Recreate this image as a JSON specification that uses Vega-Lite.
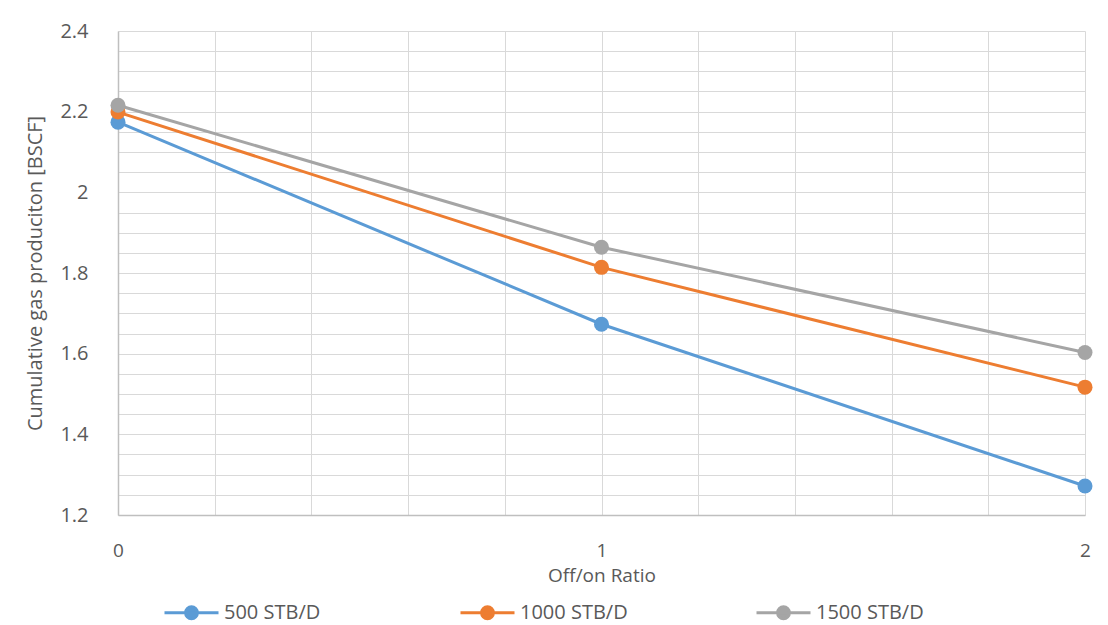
{
  "$schema": "https://vega.github.io/schema/vega-lite/v6.json",
  "width": 967,
  "height": 484,
  "autosize": {"type": "none"},
  "padding": {"left": 118, "top": 31, "right": 23, "bottom": 110},
  "background": "white",
  "config": {"view": {"stroke": null}, "font": "Open Sans"},
  "data": {
    "values": [
      {"ratio": 0, "rate": "500 STB/D", "gas": 2.174},
      {"ratio": 1, "rate": "500 STB/D", "gas": 1.673},
      {"ratio": 2, "rate": "500 STB/D", "gas": 1.272},
      {"ratio": 0, "rate": "1000 STB/D", "gas": 2.199},
      {"ratio": 1, "rate": "1000 STB/D", "gas": 1.814},
      {"ratio": 2, "rate": "1000 STB/D", "gas": 1.517},
      {"ratio": 0, "rate": "1500 STB/D", "gas": 2.216},
      {"ratio": 1, "rate": "1500 STB/D", "gas": 1.864},
      {"ratio": 2, "rate": "1500 STB/D", "gas": 1.603}
    ]
  },
  "mark": {"type": "line", "strokeWidth": 3, "point": {"filled": true, "size": 225, "opacity": 1}},
  "encoding": {
    "x": {
      "field": "ratio",
      "type": "quantitative",
      "scale": {"domain": [0, 2], "nice": false, "zero": false},
      "axis": {
        "values": [0, 0.2, 0.4, 0.6, 0.8, 1, 1.2, 1.4, 1.6, 1.8, 2],
        "format": "~g",
        "labelExpr": "datum.value == 0 || datum.value == 1 || datum.value == 2 ? datum.label : ''",
        "grid": true,
        "gridColor": "#d9d9d9",
        "gridWidth": 1,
        "domainColor": "#bfbfbf",
        "domainWidth": 1.5,
        "ticks": false,
        "labelPadding": 26,
        "labelFontSize": 19,
        "labelColor": "#595959",
        "labelFlush": false,
        "labelOverlap": false,
        "title": "Off/on Ratio",
        "titleFontSize": 19,
        "titleFontWeight": "normal",
        "titleColor": "#595959",
        "titlePadding": 6
      }
    },
    "y": {
      "field": "gas",
      "type": "quantitative",
      "scale": {"domain": [1.2, 2.4], "nice": false, "zero": false},
      "axis": {
        "values": [1.2, 1.25, 1.3, 1.35, 1.4, 1.45, 1.5, 1.55, 1.6, 1.65, 1.7, 1.75, 1.8, 1.85, 1.9, 1.95, 2, 2.05, 2.1, 2.15, 2.2, 2.25, 2.3, 2.35, 2.4],
        "format": ".1~f",
        "labelExpr": "abs(datum.value * 5 - round(datum.value * 5)) < 0.01 ? datum.label : ''",
        "grid": true,
        "gridColor": "#d9d9d9",
        "gridWidth": 1,
        "domainColor": "#bfbfbf",
        "domainWidth": 1.5,
        "ticks": false,
        "labelPadding": 30,
        "labelFontSize": 20,
        "labelColor": "#595959",
        "labelFlush": false,
        "labelOverlap": false,
        "title": "Cumulative gas produciton [BSCF]",
        "titleFontSize": 20,
        "titleFontWeight": "normal",
        "titleColor": "#595959",
        "titlePadding": 14
      }
    },
    "color": {
      "field": "rate",
      "type": "nominal",
      "scale": {"domain": ["500 STB/D", "1000 STB/D", "1500 STB/D"], "range": ["#5B9BD5", "#ED7D31", "#A5A5A5"]},
      "legend": {
        "orient": "none",
        "legendX": 45,
        "legendY": 553,
        "direction": "horizontal",
        "columns": 3,
        "gridAlign": "all",
        "columnPadding": 122,
        "title": null,
        "symbolType": "M-1,0H1M-0.22,0A0.22,0.22 0 1 0 0.22,0A0.22,0.22 0 1 0 -0.22,0Z",
        "symbolSize": 2916,
        "symbolStrokeWidth": 3,
        "labelFontSize": 20,
        "labelColor": "#595959",
        "labelOffset": 4,
        "encode": {
          "symbols": {
            "update": {
              "shape": {"value": "M-1,0H1M-0.22,0A0.22,0.22 0 1 0 0.22,0A0.22,0.22 0 1 0 -0.22,0Z"},
              "size": {"value": 2916},
              "strokeWidth": {"value": 3},
              "fill": {"scale": "color", "field": "value"},
              "stroke": {"scale": "color", "field": "value"},
              "fillOpacity": {"value": 1},
              "strokeOpacity": {"value": 1},
              "opacity": {"value": 1}
            }
          }
        }
      }
    }
  }
}
